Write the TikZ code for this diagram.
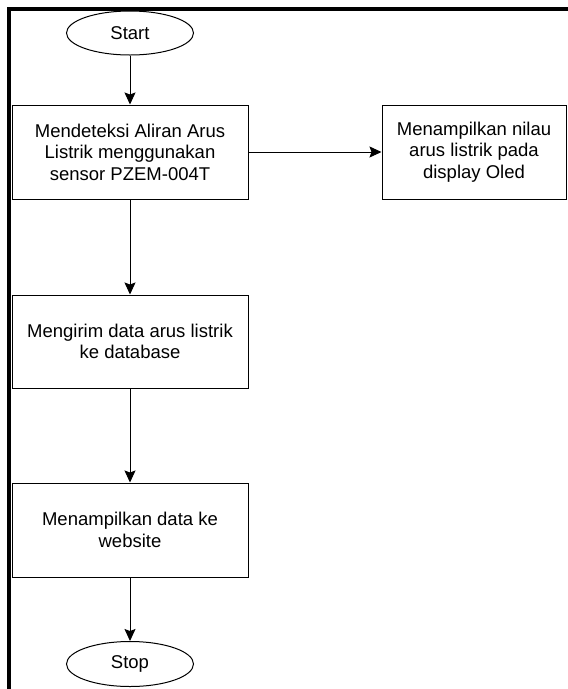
\documentclass[tikz,border=0pt]{standalone}
\usepackage{fontspec}
\setmainfont{Liberation Sans}
\usetikzlibrary{shapes.geometric,arrows.meta}
\begin{document}
\begin{tikzpicture}[x=1pt,y=-1pt,
  every node/.style={font=\fontsize{18.5}{21.5}\selectfont},
  procbox/.style={draw,line width=1pt,rectangle,minimum width=236pt,minimum height=94pt,align=center,inner sep=0pt},
  termnode/.style={draw,line width=1pt,ellipse,minimum width=127pt,minimum height=44pt,inner sep=0pt},
  flow/.style={line width=1pt,-{Stealth[length=12pt,width=11pt,inset=2pt]}},
  frameline/.style={line width=3.5pt}]
\useasboundingbox (0,0) rectangle (568,689);
\coordinate (fbl) at (9,700);
\coordinate (ftl) at (9,9);
\coordinate (ftr) at (575,9);
\draw[frameline] (fbl) -- (ftl) -- (ftr);
\node[termnode] (start) at (130,33) {Start};
\node[procbox] (detect) at (130,152) {Mendeteksi Aliran Arus\\Listrik menggunakan\\sensor PZEM-004T};
\node[procbox,minimum width=184pt] (oled) at (474,152) {Menampilkan nilau\\arus listrik pada\\display Oled};
\node[procbox,minimum height=93pt] (send) at (130,341.5) {Mengirim data arus listrik\\ke database};
\node[procbox] (web) at (130,530) {Menampilkan data ke\\website};
\node[termnode,minimum height=45pt] (stop) at (130,664) {Stop};
\draw[flow] (start) -- (detect);
\draw[flow] (detect) -- (oled);
\draw[flow] (detect) -- (send);
\draw[flow] (send) -- (web);
\draw[flow] (web) -- (stop);
\end{tikzpicture}
\end{document}
